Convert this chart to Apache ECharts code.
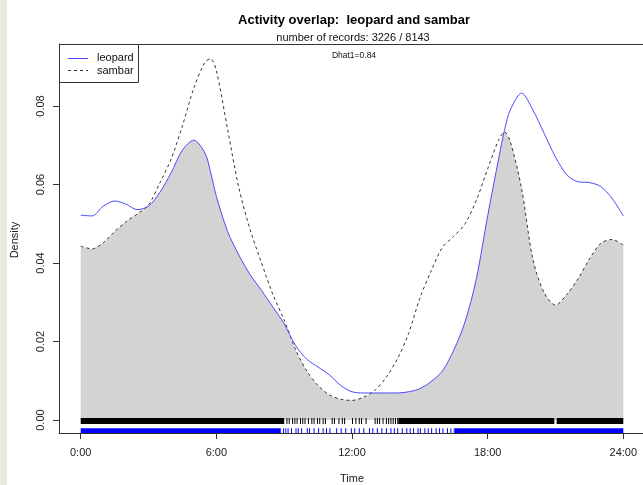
<!DOCTYPE html>
<html><head><meta charset="utf-8">
<script src="https://cdn.jsdelivr.net/npm/echarts@6/dist/echarts.min.js"></script>
<style>html,body{margin:0;padding:0;background:#fff}#c{width:643px;height:485px}</style>
</head><body><div id="c"></div>
<script>
// hours of day
const hours = [0,0.5,1,1.5,2,2.5,3,3.5,4,4.5,5,5.5,5.75,6,6.5,7,7.5,8,8.5,9,9.5,10,10.5,11,11.5,12,12.5,13,13.5,14,14.5,15,15.5,16,16.5,17,17.5,18,18.5,18.75,19,19.5,20,20.5,21,21.5,22,22.5,23,23.5,24];
const leopard = [0.0522,0.0520,0.0545,0.0558,0.0550,0.0536,0.0545,0.0580,0.0630,0.0688,0.0713,0.0680,0.0630,0.0570,0.0480,0.0420,0.0370,0.0330,0.0288,0.0245,0.0190,0.0155,0.0135,0.0115,0.0088,0.0072,0.0069,0.0069,0.0069,0.0069,0.0072,0.0080,0.0098,0.0125,0.0178,0.0250,0.0360,0.0520,0.0670,0.0740,0.0790,0.0833,0.0790,0.0730,0.0670,0.0625,0.0607,0.0605,0.0595,0.0565,0.0520];
const sambar = [0.0443,0.0436,0.0452,0.0480,0.0505,0.0525,0.0548,0.0604,0.0665,0.0750,0.0845,0.0912,0.0920,0.0890,0.0740,0.0590,0.0484,0.0400,0.0320,0.0255,0.0180,0.0125,0.0088,0.0064,0.0053,0.0050,0.0058,0.0075,0.0108,0.0155,0.0220,0.0310,0.0380,0.0440,0.0468,0.0500,0.0560,0.0640,0.0715,0.0734,0.0710,0.0590,0.0410,0.0324,0.0293,0.0320,0.0360,0.0410,0.0450,0.0460,0.0446];
const xTicks = [0,6,12,18,24];
const yTicks = [0,0.02,0.04,0.06,0.08];
const legendNames = ['leopard','sambar'];
// rug: dense stretches as bands, sparse stretches as single records
const sambarRugBands = [[0,9.0],[14.05,20.95],[21.05,24]];
const sambarRugTicks = [9.1,9.2,9.35,9.45,9.55,9.7,9.8,9.9,10.05,10.2,10.3,10.45,10.55,10.7,10.8,11.1,11.2,11.4,11.55,11.65,12.0,12.15,12.3,12.4,12.6,13.0,13.1,13.2,13.35,13.5,13.6,13.7,13.8,13.9,14.0];
const leopardRugBands = [[0,8.85],[16.55,24]];
const leopardRugTicks = [8.95,9.05,9.15,9.3,9.5,9.6,9.75,10.0,10.1,10.3,10.5,10.7,10.85,11.0,11.3,11.5,11.7,11.95,12.1,12.3,12.5,12.75,12.9,13.1,13.3,13.5,13.7,13.85,14.0,14.2,14.4,14.55,14.7,14.9,15.0,15.2,15.35,15.5,15.7,15.85,16.0,16.2,16.35,16.5];

const FONT = '"Liberation Sans", Arial, sans-serif';
const BLUE = '#4b4bff', DASH = '#333';
const chart = echarts.init(document.getElementById('c'), null, {renderer:'canvas'});

function rugRender(yTop, yBot, color){
  return function(params, api){
    const s = api.value(0), e = api.value(1);
    const p1 = api.coord([s, yTop]);
    const p2 = api.coord([e, yBot]);
    return {type:'rect', shape:{x:p1[0], y:p1[1], width:Math.max(1, p2[0]-p1[0]), height:p2[1]-p1[1]}, style:{fill:color}};
  };
}
const sambarRug = sambarRugBands.map(b=>[b[0],b[1],0]).concat(sambarRugTicks.map(t=>[t,t,0]));
const leopardRug = leopardRugBands.map(b=>[b[0],b[1],0]).concat(leopardRugTicks.map(t=>[t,t,0]));
const overlap = hours.map((h,i)=>[h, Math.min(leopard[i], sambar[i])]);

chart.setOption({
  animation:false,
  backgroundColor:'#ffffff',
  textStyle:{fontFamily:FONT},
  grid:{left:59, top:44, right:0, height:389, show:false},
  xAxis:{
    type:'value', min:-0.96, max:24.871,
    axisLine:{show:true, onZero:false, lineStyle:{color:'#333'}},
    axisTick:{show:true, length:6, lineStyle:{color:'#333'}, customValues:xTicks},
    axisLabel:{customValues:xTicks, formatter:v=>v+':00', fontFamily:FONT, fontSize:11, color:'#222', margin:14},
    splitLine:{show:false}
  },
  yAxis:{
    type:'value', min:-0.0033, max:0.0958,
    axisLine:{show:true, onZero:false, lineStyle:{color:'#333'}},
    axisTick:{show:true, length:6, lineStyle:{color:'#333'}, customValues:yTicks},
    axisLabel:{customValues:yTicks, rotate:90, formatter:v=>v.toFixed(2), fontFamily:FONT, fontSize:11, color:'#222', margin:13},
    splitLine:{show:false}
  },
  graphic:[
    {type:'rect', shape:{x:0,y:0,width:7,height:485}, style:{fill:'#ebe9df'}},
    {type:'line', shape:{x1:59, y1:44.5, x2:643, y2:44.5}, style:{stroke:'#333', lineWidth:1}},
    {type:'text', x:354, y:20, style:{text:'Activity overlap:  leopard and sambar', font:'bold 13px '+FONT, fill:'#000', textAlign:'center', textVerticalAlign:'middle'}},
    {type:'text', x:353, y:38, style:{text:'number of records: 3226 / 8143', font:'11px '+FONT, fill:'#111', textAlign:'center', textVerticalAlign:'middle'}},
    {type:'text', x:354, y:56, style:{text:'Dhat1=0.84', font:'8.5px '+FONT, fill:'#111', textAlign:'center', textVerticalAlign:'middle'}},
    {type:'text', x:352, y:479, style:{text:'Time', font:'11px '+FONT, fill:'#222', textAlign:'center', textVerticalAlign:'middle'}},
    {type:'text', x:15, y:240, rotation:Math.PI/2, style:{text:'Density', font:'11px '+FONT, fill:'#222', textAlign:'center', textVerticalAlign:'middle'}},
    // legend box
    {type:'rect', shape:{x:59.5, y:44.5, width:79, height:38}, style:{fill:'#fff', stroke:'#333', lineWidth:1}, z:100},
    {type:'line', shape:{x1:68, y1:58.5, x2:88, y2:58.5}, style:{stroke:BLUE, lineWidth:1}, z:101},
    {type:'line', shape:{x1:68, y1:70.5, x2:88, y2:70.5}, style:{stroke:DASH, lineWidth:1, lineDash:[3,3]}, z:101},
    {type:'text', x:97, y:58, style:{text:legendNames[0], font:'11px '+FONT, fill:'#111', textVerticalAlign:'middle'}, z:101},
    {type:'text', x:97, y:71, style:{text:legendNames[1], font:'11px '+FONT, fill:'#111', textVerticalAlign:'middle'}, z:101}
  ],
  series:[
    {name:'overlap', type:'line', data:overlap, smooth:0.3, showSymbol:false, symbol:'none',
     lineStyle:{width:0}, areaStyle:{color:'#d3d3d3', opacity:1, origin:0}, z:1, silent:true},
    {name:'sambarRug', type:'custom', renderItem:rugRender(0.0005,-0.001,'#000'), data:sambarRug, encode:{x:[0,1], y:2}, z:3, clip:false},
    {name:'leopardRug', type:'custom', renderItem:rugRender(-0.0021,-0.0033,'#0000ff'), data:leopardRug, encode:{x:[0,1], y:2}, z:3, clip:false},
    {name:'sambar', type:'line', data:hours.map((h,i)=>[h,sambar[i]]), smooth:0.3, showSymbol:false, symbol:'none',
     lineStyle:{color:DASH, width:1, type:[3,3]}, itemStyle:{color:DASH}, z:4},
    {name:'leopard', type:'line', data:hours.map((h,i)=>[h,leopard[i]]), smooth:0.3, showSymbol:false, symbol:'none',
     lineStyle:{color:BLUE, width:1}, itemStyle:{color:BLUE}, z:5}
  ]
});
</script></body></html>
